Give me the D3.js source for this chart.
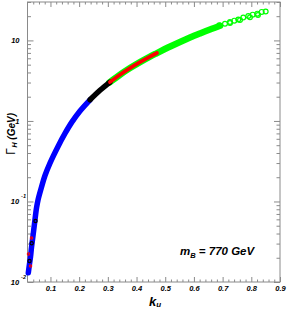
<!DOCTYPE html>
<html>
<head>
<meta charset="utf-8">
<script src="https://cdn.jsdelivr.net/npm/d3@7"></script>
<style>
  body { margin: 0; background: #fff; }
  svg { display: block; }
  text { font-family: "Liberation Sans", Arial, sans-serif; font-weight: bold; font-style: italic; fill: #000; }
</style>
</head>
<body>
<svg width="289" height="311"></svg>
<script>
// values: k_u and Gamma_H (GeV)
const kBlue = [0.0228, 0.027, 0.0305, 0.034, 0.039, 0.0444, 0.0514, 0.0566, 0.067, 0.081, 0.0984, 0.1273, 0.1507, 0.174, 0.203, 0.238]
const gBlue = [0.013, 0.0168, 0.0205, 0.027, 0.037, 0.053, 0.083, 0.104, 0.143, 0.210, 0.30, 0.49, 0.70, 0.96, 1.33, 1.832]

const kBlack = [0.238, 0.2727, 0.3075]
const gBlack = [1.832, 2.404, 3.04]

const kRed = [0.3075, 0.3424, 0.3773, 0.4121, 0.447, 0.4713]
const gRed = [3.04, 3.75, 4.53, 5.37, 6.29, 6.97]

const kGreen = [0.305, 0.3424, 0.3773, 0.4121, 0.447, 0.4713, 0.5096, 0.5515, 0.5863, 0.6212, 0.656, 0.6909]
const gGreen = [3.0, 3.75, 4.53, 5.37, 6.29, 6.97, 8.17, 9.58, 10.87, 12.22, 13.67, 15.2]

// sparse open circles at the upper end
const kGreenEnd = [0.6884, 0.7083, 0.7257, 0.7407, 0.7546, 0.772, 0.7895, 0.8048, 0.8209, 0.8362, 0.8501, 0.7257, 0.7606, 0.7954, 0.8233]
const gGreenEnd = [15.4, 16.1, 16.9, 17.6, 18.2, 19.3, 20.1, 20.9, 21.5, 22.6, 22.9, 16.4, 17.9, 19.4, 20.7]

// stray points near the bottom
const kBlackLow = [0.0346, 0.027, 0.0479]
const gBlackLow = [0.0303, 0.0182, 0.0573]
const kRedLow = [0.0235, 0.0305, 0.034]
const gRedLow = [0.0223, 0.0158, 0.0352]
const kGreenLow = [0.046]
const gGreenLow = [0.059]

const xTicks = [0.1, 0.2, 0.3, 0.4, 0.5, 0.6, 0.7, 0.8, 0.9]
const xTickLabels = ['0.1', '0.2', '0.3', '0.4', '0.5', '0.6', '0.7', '0.8', '0.9']
const yTicks = [0.01, 0.1, 1, 10]
const yTickBase = ['10', '10', '1', '10']
const yTickExp = ['-2', '-1', '', '']

const svg = d3.select('svg')
const x = d3.scaleLinear().domain([0.02, 0.9]).range([27.5, 280])
const y = d3.scaleLog().domain([0.01, 30]).range([282, 2])

const axisColor = '#8a8a8a'

function pts(ks, gs) {
  return ks.map((k, i) => ({ k: k, g: gs[i] }))
}

// axes
const xMinor = d3.range(0.04, 0.9, 0.02).filter(v => Math.abs(v * 10 - Math.round(v * 10)) > 0.01)
const yMinor = y.ticks().filter(v => !yTicks.includes(v))

function styleAxis(g) {
  g.select('.domain').remove()
  g.selectAll('line').attr('stroke', axisColor)
}

svg.append('g').attr('transform', 'translate(0,282)')
  .call(d3.axisBottom(x).tickValues(xTicks).tickSize(-5).tickSizeOuter(0).tickPadding(4)
    .tickFormat((d, i) => xTickLabels[i]))
  .call(styleAxis)
  .selectAll('text').attr('font-size', 7.5).attr('font-family', '"Liberation Sans", Arial, sans-serif')

svg.append('g').attr('transform', 'translate(0,282)')
  .call(d3.axisBottom(x).tickValues(xMinor).tickSize(-2.5).tickSizeOuter(0).tickFormat(''))
  .call(styleAxis)

svg.append('g').attr('transform', 'translate(0,2)')
  .call(d3.axisTop(x).tickValues(xTicks).tickSize(-5).tickSizeOuter(0).tickFormat(''))
  .call(styleAxis)
svg.append('g').attr('transform', 'translate(0,2)')
  .call(d3.axisTop(x).tickValues(xMinor).tickSize(-2.5).tickSizeOuter(0).tickFormat(''))
  .call(styleAxis)

svg.append('g').attr('transform', 'translate(27.5,0)')
  .call(d3.axisLeft(y).tickValues(yTicks).tickSize(-6).tickSizeOuter(0).tickFormat(''))
  .call(styleAxis)
svg.append('g').attr('transform', 'translate(27.5,0)')
  .call(d3.axisLeft(y).tickValues(yMinor).tickSize(-3.5).tickSizeOuter(0).tickFormat(''))
  .call(styleAxis)
svg.append('g').attr('transform', 'translate(280,0)')
  .call(d3.axisRight(y).tickValues(yTicks).tickSize(-6).tickSizeOuter(0).tickFormat(''))
  .call(styleAxis)
svg.append('g').attr('transform', 'translate(280,0)')
  .call(d3.axisRight(y).tickValues(yMinor).tickSize(-3.5).tickSizeOuter(0).tickFormat(''))
  .call(styleAxis)

svg.append('rect')
  .attr('x', 27.5).attr('y', 2).attr('width', 252.5).attr('height', 280)
  .attr('fill', 'none').attr('stroke', axisColor).attr('stroke-width', 1)

// y tick labels
const yl = svg.append('g').selectAll('text')
  .data(yTicks)
  .enter()
  .append('text')
  .attr('font-size', 7.5)
  .attr('text-anchor', 'end')
  .attr('x', (d, i) => yTickExp[i] ? 26 : 19.5)
  .attr('y', d => y(d) + 2.8)
yl.append('tspan').text((d, i) => yTickBase[i])
yl.append('tspan').attr('font-size', 5.5).attr('dx', 2).attr('dy', -6).text((d, i) => yTickExp[i])

// curves
const line = d3.line().x(d => x(d.k)).y(d => y(d.g)).curve(d3.curveCatmullRom)

function band(ks, gs, color, w) {
  svg.append('path')
    .datum(pts(ks, gs))
    .attr('d', line)
    .attr('fill', 'none')
    .attr('stroke', color)
    .attr('stroke-width', w)
    .attr('stroke-linecap', 'round')
}

function dots(ks, gs, color, r) {
  svg.append('g').selectAll('circle')
    .data(pts(ks, gs))
    .enter()
    .append('circle')
    .attr('cx', d => x(d.k))
    .attr('cy', d => y(d.g))
    .attr('r', r)
    .attr('fill', 'none')
    .attr('stroke', color)
    .attr('stroke-width', 1.2)
}

band(kGreen, gGreen, '#00ff00', 6.5)
dots(kGreenEnd, gGreenEnd, '#00ff00', 2.4)
dots(kGreenLow, gGreenLow, '#00ff00', 1.5)
band(kBlue, gBlue, '#0000ff', 5.5)
band(kBlack, gBlack, '#000000', 5.5)
band(kRed, gRed, '#ff0000', 3.8)
dots(kBlackLow, gBlackLow, '#000000', 1.6)
dots(kRedLow, gRedLow, '#ff0000', 1.2)

// titles
const yt = svg.append('text')
  .attr('transform', 'translate(14.5,113) rotate(-90)')
  .attr('text-anchor', 'end')
  .attr('font-size', 10)
yt.append('tspan').attr('font-style', 'normal').attr('font-weight', 'normal').attr('font-size', 12).text('Γ')
yt.append('tspan').attr('font-size', 7).attr('dx', 0.5).attr('dy', 2.5).text('H')
yt.append('tspan').attr('dy', -2.5).text(' (GeV)')

const xt = svg.append('text').attr('x', 149).attr('y', 306).attr('font-size', 13)
xt.append('tspan').text('k')
xt.append('tspan').attr('font-size', 8).attr('dy', 1).text('u')

const ann = svg.append('text').attr('x', 180).attr('y', 255).attr('font-size', 11.5)
ann.append('tspan').text('m')
ann.append('tspan').attr('font-size', 7.5).attr('dy', 2.5).text('B')
ann.append('tspan').attr('dy', -2.5).text(' = 770 GeV')
</script>
</body>
</html>
